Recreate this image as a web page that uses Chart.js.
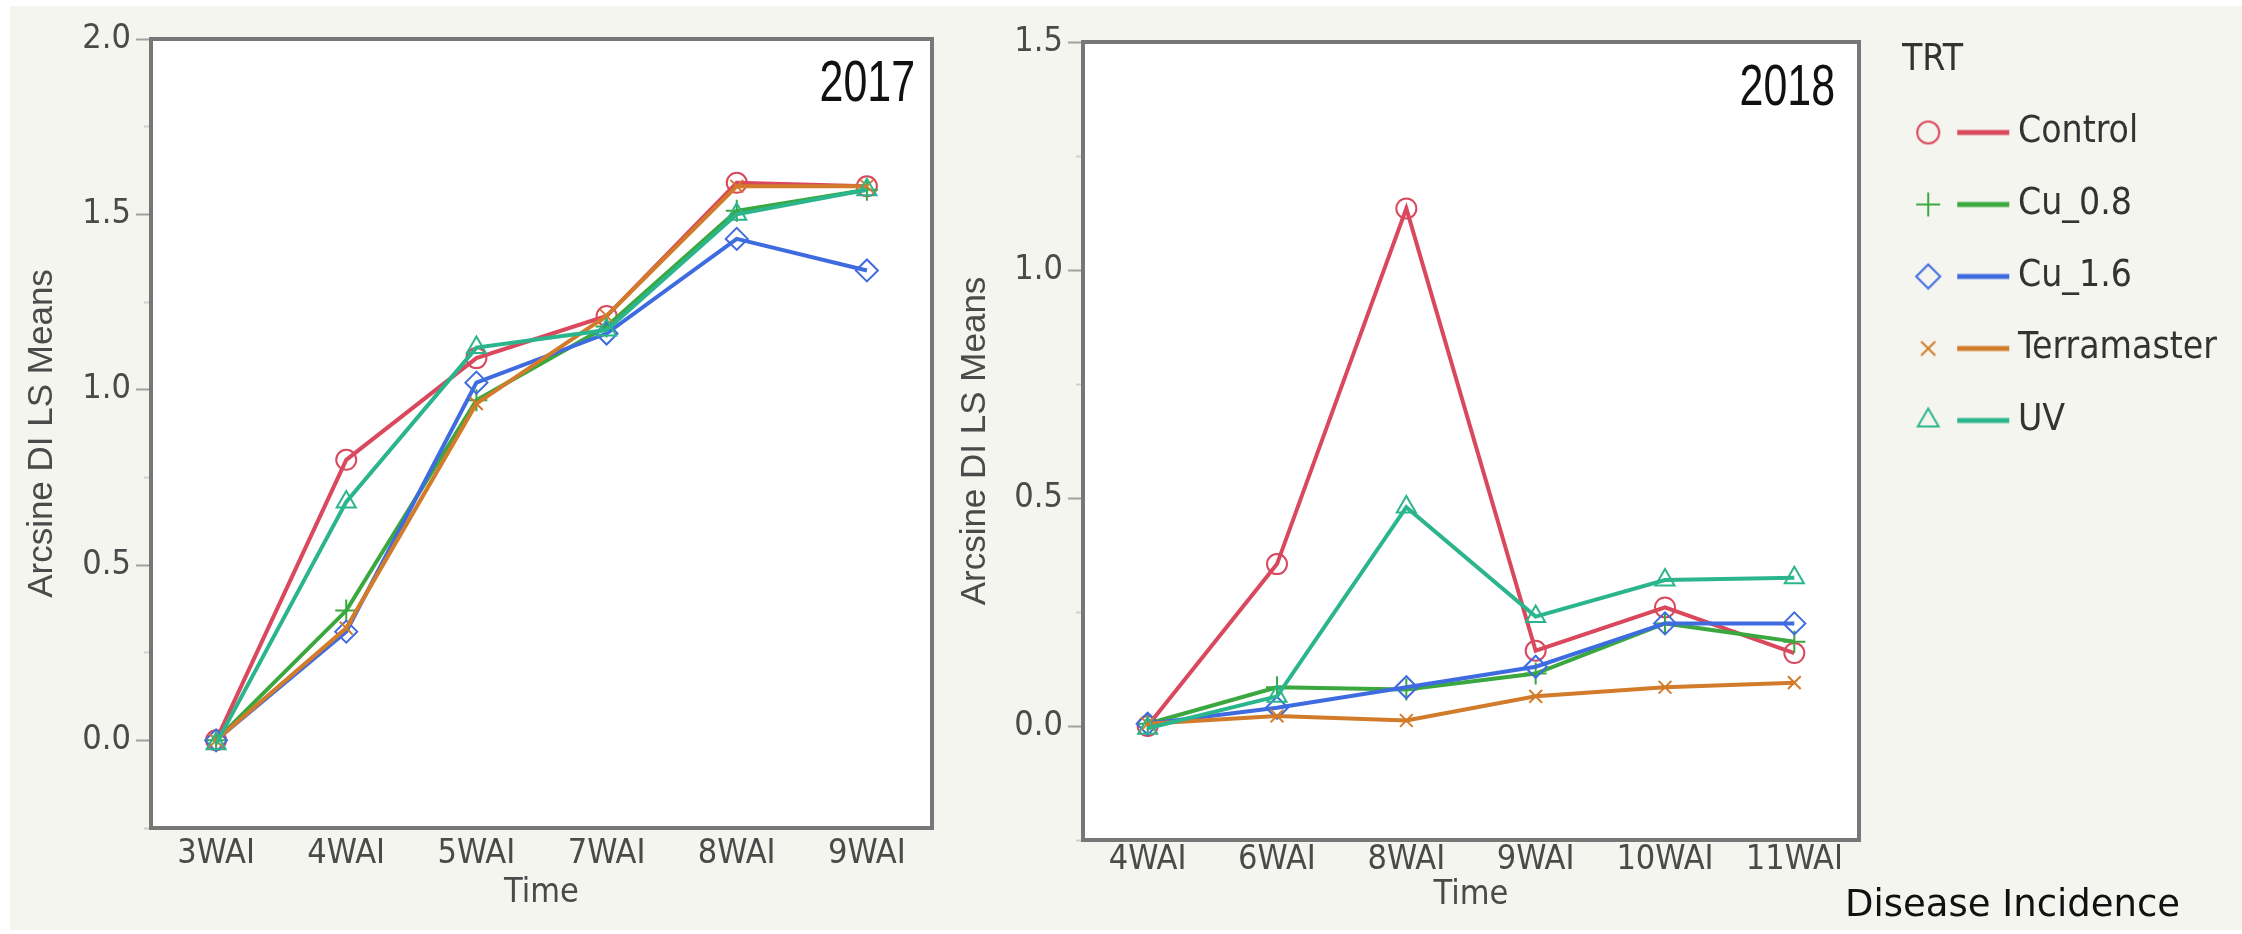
<!DOCTYPE html>
<html>
<head>
<meta charset="utf-8">
<script src="https://cdn.jsdelivr.net/npm/chart.js@4/dist/chart.umd.min.js"></script>
<style>
  html, body { margin: 0; padding: 0; background: #ffffff; }
  #page { position: relative; width: 2242px; height: 934px; overflow: hidden; background: #ffffff; }
  #panel { position: absolute; left: 10px; top: 6px; width: 2232px; height: 924px; background: #f5f5f0; }
  #chart2017 { position: absolute; left: 0; top: 0; }
  #chart2018 { position: absolute; left: 950px; top: 0; }
  #caption { position: absolute; left: 1845px; top: 885px; font-family: "DejaVu Sans", sans-serif; font-size: 37px; line-height: 37px; color: #111; }
</style>
</head>
<body>
<div id="page">
  <div id="panel"></div>
  <canvas id="chart2017" width="950" height="934"></canvas>
  <canvas id="chart2018" width="1292" height="934"></canvas>
  <div id="caption">Disease Incidence</div>
</div>
<script>
// 2017 season
const weeks2017 = ['3WAI', '4WAI', '5WAI', '7WAI', '8WAI', '9WAI'];
const control2017 = [0.00, 0.80, 1.09, 1.21, 1.59, 1.58];
const cu08_2017 = [0.00, 0.37, 0.97, 1.18, 1.51, 1.57];
const cu16_2017 = [0.00, 0.31, 1.02, 1.16, 1.43, 1.34];
const terra2017 = [0.00, 0.32, 0.96, 1.21, 1.58, 1.58];
const uv2017 = [-0.01, 0.68, 1.12, 1.17, 1.50, 1.57];

// 2018 season
const weeks2018 = ['4WAI', '6WAI', '8WAI', '9WAI', '10WAI', '11WAI'];
const control2018 = [0.000, 0.355, 1.135, 0.165, 0.260, 0.160];
const cu08_2018 = [0.005, 0.085, 0.080, 0.115, 0.225, 0.185];
const cu16_2018 = [0.005, 0.040, 0.085, 0.130, 0.225, 0.225];
const terra2018 = [0.005, 0.022, 0.012, 0.065, 0.085, 0.095];
const uv2018 = [-0.005, 0.065, 0.480, 0.240, 0.320, 0.325];

const treatments = ['Control', 'Cu_0.8', 'Cu_1.6', 'Terramaster', 'UV'];
const colors = ['#d9485c', '#3aa83e', '#3e6ce0', '#d27b2a', '#2bb58c'];
const markers = ['circle', 'cross', 'rectRot', 'crossRot', 'triangle'];
const markerSize = [10, 11, 11, 9, 11];

const NARROW = '"Liberation Sans Narrow", "DejaVu Sans Condensed", "Liberation Sans", Arial, sans-serif';
const REGULAR = '"Liberation Sans", Arial, sans-serif';
const LEGEND_SIZE = 37;
const LEGEND_PAD = 35;
const LEGEND_BOX = 62.5;

const makeDatasets = (series) => series.map((data, i) => ({
    label: treatments[i],
    data: data,
    borderColor: colors[i],
    backgroundColor: colors[i],
    borderWidth: 4,
    tension: 0,
    fill: false,
    pointStyle: markers[i],
    pointRadius: markerSize[i],
    pointBorderWidth: 2,
    pointBorderColor: colors[i],
    pointBackgroundColor: 'rgba(255,255,255,0)',
    order: 5 - i
}));

// white plot area with a grey frame, plus the year tag
const plotFrame = {
    id: 'plotFrame',
    beforeDraw(chart) {
        const {ctx, chartArea: a} = chart;
        ctx.save();
        ctx.fillStyle = '#ffffff';
        ctx.fillRect(a.left, a.top, a.right - a.left, a.bottom - a.top);
        ctx.restore();
    },
    afterDraw(chart, args, opts) {
        const {ctx, chartArea: a} = chart;
        ctx.save();
        ctx.strokeStyle = '#777777';
        ctx.lineWidth = 4;
        ctx.strokeRect(a.left, a.top, a.right - a.left, a.bottom - a.top);
        // year tag, squeezed sideways like the source
        ctx.translate(a.right - opts.dx, a.top + opts.dy);
        ctx.scale(0.74, 1);
        ctx.fillStyle = '#111111';
        ctx.font = '58px ' + REGULAR;
        ctx.textAlign = 'right';
        ctx.textBaseline = 'alphabetic';
        ctx.fillText(opts.text, 0, 0);
        ctx.restore();
    }
};

// marker + line legend icons
const legendIcons = treatments.map((t, i) => {
    const c = document.createElement('canvas');
    c.width = 110;
    c.height = 40;
    const ctx = c.getContext('2d');
    ctx.strokeStyle = colors[i];
    ctx.fillStyle = 'rgba(255,255,255,0)';
    ctx.lineWidth = 2;
    const opts = {pointStyle: markers[i], radius: markerSize[i] + 1, rotation: 0, borderWidth: 2};
    if (Chart.helpers && Chart.helpers.drawPoint) {
        Chart.helpers.drawPoint(ctx, opts, 15, 20);
    } else {
        ctx.beginPath();
        ctx.arc(15, 20, 10, 0, Math.PI * 2);
        ctx.stroke();
    }
    ctx.fillStyle = colors[i];
    ctx.fillRect(44, 17.5, 52, 5);
    return c;
});

// room the legend needs, so it starts just right of the gap axis
const measureCtx = document.createElement('canvas').getContext('2d');
measureCtx.font = LEGEND_SIZE + 'px ' + NARROW;
const longestLabel = Math.max(...treatments.map((t) => measureCtx.measureText(t).width));
const legendWidth = LEGEND_PAD + LEGEND_BOX + LEGEND_SIZE / 2 + longestLabel;
const legendRightPad = Math.max(0, 330 - legendWidth);

const isMajor = (v) => Math.abs(v * 2 - Math.round(v * 2)) < 1e-6;

const yAxis = (max, width, titlePad) => ({
    min: -0.25,
    max: max,
    afterFit: (scale) => { scale.width = width; },
    border: { display: false },
    grid: {
        drawOnChartArea: false,
        tickLength: 15,
        tickWidth: 2,
        tickColor: (ctx) => (isMajor(ctx.tick.value) ? '#a0a0a0' : '#d0d0d0'),
        tickBorderDash: (ctx) => (isMajor(ctx.tick.value) ? [] : [0, 8, 8, 0])
    },
    ticks: {
        stepSize: 0.25,
        padding: 5,
        color: '#4a4a4a',
        font: { family: NARROW, size: 34 },
        callback: (v) => (isMajor(v) && v >= 0 ? v.toFixed(1) : '')
    },
    title: {
        display: true,
        text: 'Arcsine DI LS Means',
        color: '#4a4a4a',
        font: { family: REGULAR, size: 35 },
        padding: { top: titlePad, bottom: 0 }
    }
});

const xAxis = (height, tickPad, titlePad) => ({
    offset: true,
    afterFit: (scale) => { scale.height = height; },
    border: { display: false },
    grid: { display: false, drawTicks: false },
    ticks: {
        padding: tickPad,
        maxRotation: 0,
        color: '#4a4a4a',
        font: { family: NARROW, size: 34 }
    },
    title: {
        display: true,
        text: 'Time',
        color: '#4a4a4a',
        font: { family: NARROW, size: 34 },
        padding: { top: 0, bottom: titlePad }
    }
});

new Chart(document.getElementById('chart2017').getContext('2d'), {
    type: 'line',
    data: {
        labels: weeks2017,
        datasets: makeDatasets([control2017, cu08_2017, cu16_2017, terra2017, uv2017])
    },
    options: {
        responsive: false,
        animation: false,
        devicePixelRatio: 1,
        layout: { padding: { top: 39, right: 18, bottom: 0, left: 0 } },
        scales: {
            x: xAxis(106, 6, 20),
            y: yAxis(2.0, 151, 21)
        },
        plugins: {
            legend: { display: false },
            tooltip: { enabled: false },
            plotFrame: { text: '2017', dx: 17, dy: 62 }
        }
    },
    plugins: [plotFrame]
});

new Chart(document.getElementById('chart2018').getContext('2d'), {
    type: 'line',
    data: {
        labels: weeks2018,
        datasets: makeDatasets([control2018, cu08_2018, cu16_2018, terra2018, uv2018])
    },
    options: {
        responsive: false,
        animation: false,
        devicePixelRatio: 1,
        layout: { padding: { top: 42, right: legendRightPad, bottom: 0, left: 0 } },
        scales: {
            x: xAxis(94, 0, 18),
            y: yAxis(1.5, 133, 4),
            gap: {
                position: 'right',
                display: true,
                afterFit: (scale) => { scale.width = 43; },
                border: { display: false },
                grid: { display: false },
                ticks: { display: false }
            }
        },
        plugins: {
            tooltip: { enabled: false },
            plotFrame: { text: '2018', dx: 24, dy: 63 },
            legend: {
                position: 'right',
                align: 'start',
                maxWidth: 400,
                title: {
                    display: true,
                    text: 'TRT',
                    position: 'start',
                    color: '#333333',
                    font: { family: NARROW, size: LEGEND_SIZE, lineHeight: 1 },
                    padding: 0
                },
                labels: {
                    usePointStyle: true,
                    pointStyleWidth: LEGEND_BOX,
                    padding: LEGEND_PAD,
                    color: '#333333',
                    font: { family: NARROW, size: LEGEND_SIZE },
                    generateLabels: (chart) => {
                        const items = Chart.defaults.plugins.legend.labels.generateLabels(chart);
                        items.sort((a, b) => a.datasetIndex - b.datasetIndex);
                        items.forEach((it) => { it.pointStyle = legendIcons[it.datasetIndex]; });
                        return items;
                    }
                }
            }
        }
    },
    plugins: [plotFrame]
});
</script>
</body>
</html>
